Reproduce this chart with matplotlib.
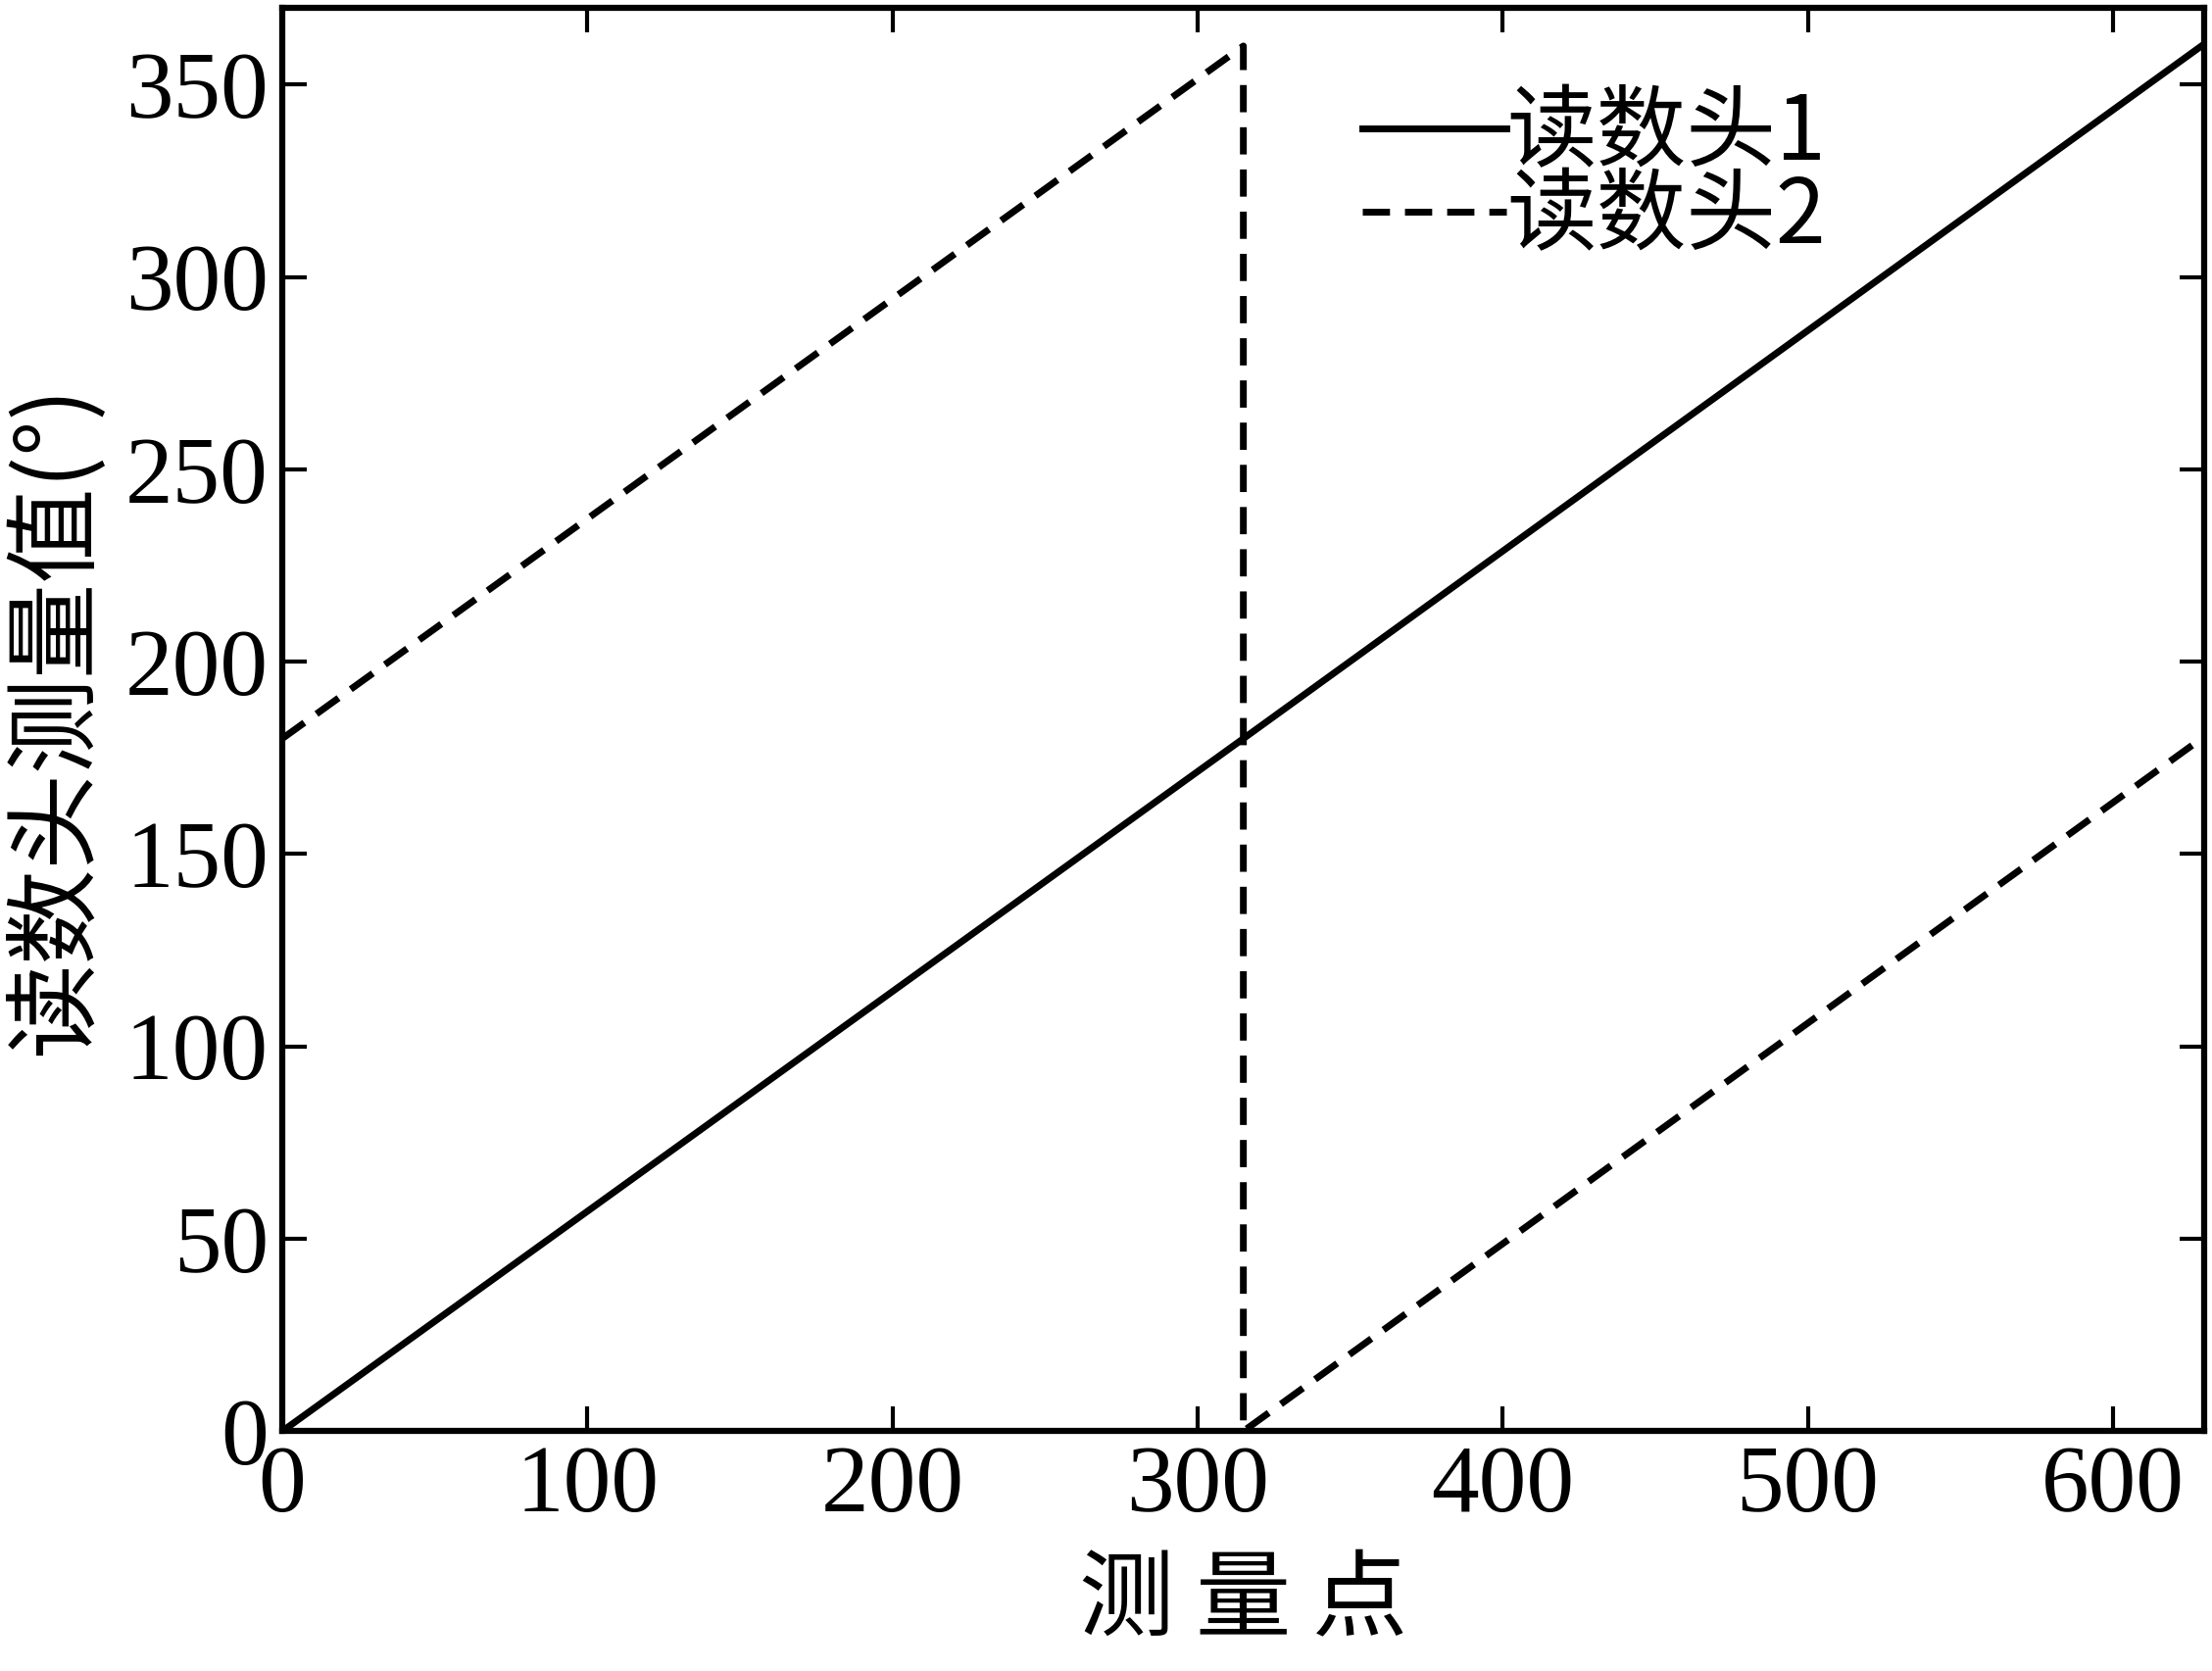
import matplotlib
matplotlib.use("Agg")
import matplotlib.pyplot as plt

fam = ['Liberation Serif', 'Noto Sans CJK SC']
plt.rcParams['font.family'] = fam

# data
head1_x = [0, 315, 629]
head1_y = [0, 180, 360]
head2_x = [0, 315, 315, 629]
head2_y = [180, 360, 0, 180]
xticks = [0, 100, 200, 300, 400, 500, 600]
yticks = [0, 50, 100, 150, 200, 250, 300, 350]

fig = plt.figure(figsize=(22.57, 17.05), dpi=100)
ax = fig.add_axes([0.1276, 0.1435, 0.869, 0.852])
ax.plot(head1_x, head1_y, color='black', lw=5, label='读数头1')
ax.plot(head2_x, head2_y, color='black', lw=5, ls=(0, (4, 2.2)), label='读数头2')
ax.set_xlim(0, 630)
ax.set_ylim(0, 370)
ax.set_xticks(xticks)
ax.set_yticks(yticks)
ax.tick_params(direction='in', length=18, width=3, labelsize=70, top=True, right=True, pad=10)
for s in ax.spines.values():
    s.set_linewidth(4.5)
ax.set_xlabel('测 量 点', fontsize=70, family=['Noto Sans CJK SC'], labelpad=15)
ax.set_ylabel('读数头测量值(°)', fontsize=70, family=['Noto Sans CJK SC'], labelpad=15)
leg = ax.legend(loc='upper left', bbox_to_anchor=(0.52, 1.0), frameon=False,
                prop={'family': ['Noto Sans CJK SC'], 'size': 66},
                handlelength=1.6, handletextpad=0.0, labelspacing=-0.1)
fig.savefig('out.png', dpi=100)
